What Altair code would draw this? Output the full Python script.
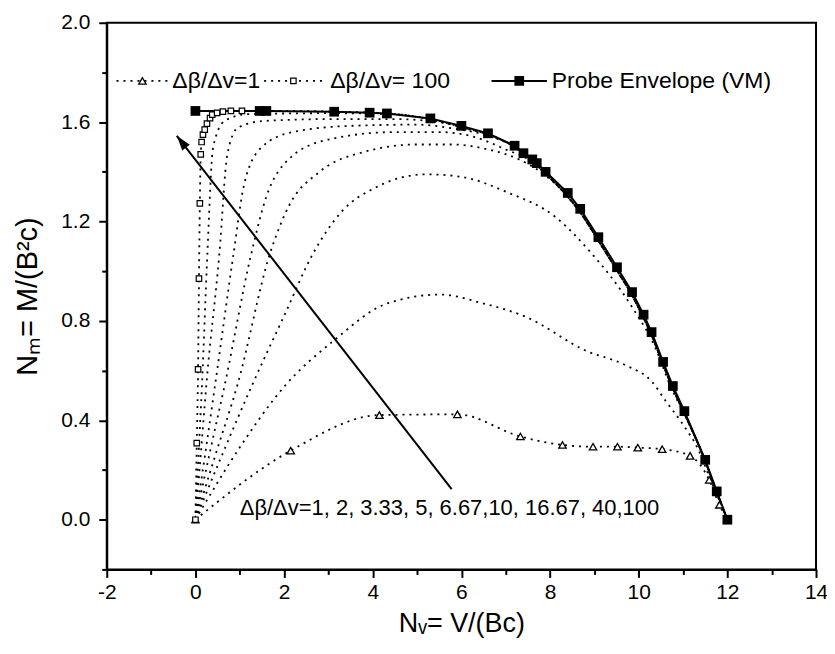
import altair as alt
import pandas as pd

FONT = "Liberation Sans"

# ---------------- data ----------------
# Probe envelope (VM), filled squares, solid line
env_x = [0, 1.45, 1.6, 3.13, 3.93, 4.32, 5.3, 6.0, 6.6, 7.2, 7.4, 7.6, 7.7, 7.9,
         8.4, 8.68, 9.09, 9.51, 9.85, 10.11, 10.29, 10.55, 10.77, 11.03, 11.5, 11.76, 12.0]
env_y = [1.645, 1.645, 1.645, 1.642, 1.638, 1.635, 1.615, 1.585, 1.555, 1.505, 1.475, 1.45, 1.435, 1.40,
         1.315, 1.251, 1.137, 1.016, 0.916, 0.825, 0.755, 0.635, 0.538, 0.437, 0.241, 0.114, 0.0]

# d_beta/d_v = 1 (open triangles)
c1_x = [0, 2.15, 4.15, 5.91, 7.33, 8.28, 8.97, 9.52, 9.98, 10.53, 11.16, 11.59, 11.82, 12.0]
c1_y = [0, 0.278, 0.421, 0.424, 0.335, 0.301, 0.294, 0.294, 0.29, 0.284, 0.257, 0.16, 0.06, 0.0]

# d_beta/d_v = 2
c2_x = [0, 0.96, 2.0, 3.13, 4.32, 5.52, 6.5, 7.46, 8.81, 9.7, 10.3, 10.6, 10.98, 11.35, 11.6, 12.0]
c2_y = [0, 0.28, 0.535, 0.722, 0.87, 0.906, 0.87, 0.816, 0.68, 0.622, 0.555, 0.48, 0.388, 0.28, 0.17, 0.0]

# d_beta/d_v = 3.33
c3_x = [0, 0.6, 1.3, 2.0, 2.65, 3.3, 4.1, 5.2, 6.0, 7.0, 8.13, 8.88, 9.85, 10.38, 10.71, 11.1, 11.5, 12.0]
c3_y = [0, 0.26, 0.55, 0.82, 1.07, 1.24, 1.34, 1.39, 1.38, 1.32, 1.217, 1.083, 0.856, 0.69, 0.54, 0.40, 0.235, 0.0]

# d_beta/d_v = 5
c4_x = [0, 0.45, 0.96, 1.68, 2.1, 2.8, 3.8, 5.0, 5.8, 6.6, 7.3, 7.9]
c4_y = [0, 0.26, 0.55, 1.07, 1.26, 1.40, 1.48, 1.51, 1.51, 1.49, 1.45, 1.385]

# d_beta/d_v = 6.67
c5_x = [0, 0.3, 0.67, 1.26, 1.6, 2.1, 3.0, 4.5, 5.5, 6.3, 7.0, 7.6]
c5_y = [0, 0.25, 0.55, 1.07, 1.30, 1.45, 1.53, 1.56, 1.56, 1.54, 1.49, 1.44]

# d_beta/d_v = 10
c6_x = [0, 0.2, 0.45, 0.86, 1.1, 1.5, 2.2, 3.5, 5.0, 5.8, 6.6, 7.3]
c6_y = [0, 0.24, 0.55, 1.07, 1.35, 1.50, 1.56, 1.585, 1.59, 1.575, 1.545, 1.49]

# d_beta/d_v = 16.67
c7_x = [0, 0.12, 0.25, 0.54, 0.72, 0.96, 1.56, 3.0, 4.5, 5.5, 6.3]
c7_y = [0, 0.26, 0.55, 1.07, 1.47, 1.578, 1.605, 1.612, 1.612, 1.60, 1.565]

# d_beta/d_v = 40
c8_x = [0, 0.07, 0.15, 0.27, 0.4, 0.66, 1.18, 3.0, 4.5, 5.3]
c8_y = [0, 0.26, 0.55, 1.07, 1.50, 1.605, 1.632, 1.636, 1.632, 1.61]

# d_beta/d_v = 100 (open squares, then along the envelope)
c9_mx = [0, 0.03, 0.06, 0.08, 0.1, 0.12, 0.14, 0.17, 0.21, 0.26, 0.33, 0.38, 0.49, 0.62, 0.8, 1.05]
c9_my = [0, 0.308, 0.605, 0.97, 1.273, 1.47, 1.52, 1.55, 1.57, 1.594, 1.616, 1.63, 1.637, 1.642, 1.645, 1.645]
c9_x = [2.0, 3.13, 4.32, 5.3]
c9_y = [1.645, 1.642, 1.635, 1.613]

# shared part of the high-ratio curves, just inside the envelope
mid_x = [6.0, 6.6, 7.2, 7.9]
mid_y = [1.580, 1.550, 1.500, 1.392]
tail_x = [8.4, 8.68, 9.09, 9.51, 9.85, 10.11, 10.29, 10.55, 10.77, 11.03, 11.5, 11.76, 12.0]
tail_y = [1.30, 1.237, 1.123, 1.003, 0.903, 0.812, 0.743, 0.624, 0.528, 0.428, 0.236, 0.11, 0.0]

ratio_text = "\u0394\u03b2/\u0394v=1, 2, 3.33, 5, 6.67,10, 16.67, 40,100"
legend_labels = ["\u0394\u03b2/\u0394v=1", "\u0394\u03b2/\u0394v= 100", "Probe Envelope (VM)"]

# ---------------- tables ----------------
def frame(name, xs, ys):
    return pd.DataFrame({"x": xs, "y": ys, "curve": name, "i": range(len(xs))})

def with_shared(xs, ys):
    last = xs[-1]
    ex = list(xs) + [v for v in mid_x if v > last] + list(tail_x)
    ey = list(ys) + [w for v, w in zip(mid_x, mid_y) if v > last] + list(tail_y)
    return ex, ey

curves = [
    frame("1", c1_x, c1_y),
    frame("2", c2_x, c2_y),
    frame("3.33", c3_x, c3_y),
    frame("5", *with_shared(c4_x, c4_y)),
    frame("6.67", *with_shared(c5_x, c5_y)),
    frame("10", *with_shared(c6_x, c6_y)),
    frame("16.67", *with_shared(c7_x, c7_y)),
    frame("40", *with_shared(c8_x, c8_y)),
    frame("100", *with_shared(c9_mx + c9_x, c9_my + c9_y)),
]
curve_df = pd.concat(curves, ignore_index=True)
env_df = frame("env", env_x, env_y)
tri_df = frame("1", c1_x, c1_y)
sq_df = frame("100", c9_mx, c9_my)

# annotation / legend layout (data units)
arrow_df = pd.DataFrame({"x": [5.78], "y": [0.123], "x2": [-0.42], "y2": [1.545]})
note_df = pd.DataFrame({"x": [1.0], "y": [0.048], "t": [ratio_text]})
leg_y = 1.766
leg_lines = pd.DataFrame({"x": [-1.78, 1.55, 6.68], "x2": [-0.61, 2.87, 7.93],
                          "y": [leg_y] * 3, "kind": ["dot", "dot", "solid"]})
leg_text = pd.DataFrame({"x": [-0.52, 3.04, 8.04], "y": [leg_y] * 3, "t": legend_labels})

# ---------------- encodings ----------------
sx = alt.Scale(domain=[-2, 14], nice=False, zero=False)
sy = alt.Scale(domain=[-0.2, 2.0], nice=False, zero=False)

x_axis = alt.Axis(
    values=list(range(-2, 15)),
    labelExpr="datum.value % 2 == 0 ? '' + datum.value : ''",
    tickSize={"condition": {"test": "datum.value % 2 == 0", "value": 8}, "value": 5},
    grid=False, domainColor="black", domainWidth=2, tickColor="black", tickWidth=2,
    labelFont=FONT, labelFontSize=21, labelColor="black", labelPadding=4,
    titleFont=FONT, titleFontSize=27, titleFontWeight="normal", titleColor="black",
    titlePadding=8, labelFlush=False,
)
y_vals = [-0.2, 0.0, 0.2, 0.4, 0.6, 0.8, 1.0, 1.2, 1.4, 1.6, 1.8, 2.0]
y_axis = alt.Axis(
    values=y_vals,
    labelExpr="abs(round(datum.value*10)) % 4 == 0 && datum.value > -0.1 ? format(datum.value, '.1f') : ''",
    tickSize={"condition": {"test": "abs(round(datum.value*10)) % 4 == 0", "value": 8}, "value": 5},
    grid=False, domainColor="black", domainWidth=2, tickColor="black", tickWidth=2,
    labelFont=FONT, labelFontSize=21, labelColor="black", labelPadding=9,
    titleFont=FONT, titleFontSize=29, titleFontWeight="normal", titleColor="black",
    titlePadding=18, labelFlush=False,
)
X_TITLE = "N\u1d65= V/(Bc)"
Y_TITLE = "N\u2098= M/(B\u00b2c)"

def X(field="x"):
    return alt.X(f"{field}:Q", scale=sx, axis=x_axis, title=X_TITLE)

def Y(field="y"):
    return alt.Y(f"{field}:Q", scale=sy, axis=y_axis, title=Y_TITLE)

base_curves = alt.Chart(curve_df).mark_line(
    color="black", strokeWidth=1.8, strokeDash=[2, 5], interpolate="monotone"
).encode(x=X(), y=Y(), detail="curve:N", order="i:Q")

env_line = alt.Chart(env_df).mark_line(color="black", strokeWidth=2).encode(
    x=X(), y=Y(), order="i:Q")

tri_pts = alt.Chart(tri_df).mark_point(
    shape="triangle-up", size=55, filled=True, fill="white", stroke="black", strokeWidth=1.3, opacity=1
).encode(x=X(), y=Y())

sq_pts = alt.Chart(sq_df).mark_point(
    shape="square", size=30, filled=True, fill="white", stroke="black", strokeWidth=1.2, opacity=1
).encode(x=X(), y=Y())

env_pts = alt.Chart(env_df).mark_square(size=95, color="black", opacity=1).encode(x=X(), y=Y())

arrow_line = alt.Chart(arrow_df).mark_rule(color="black", strokeWidth=2).encode(
    x=X(), y=Y(), x2="x2:Q", y2="y2:Q")

arrow_head = alt.Chart(arrow_df).mark_point(
    shape="M0,0 L-0.32,1 L0.32,1 Z", size=900, angle=322, filled=True, color="black", opacity=1
).encode(x=X("x2"), y=Y("y2"))

note = alt.Chart(note_df).mark_text(
    align="left", baseline="middle", font=FONT, fontSize=22, color="black"
).encode(x=X(), y=Y(), text="t:N")

leg_line_dot = alt.Chart(leg_lines).transform_filter("datum.kind == 'dot'").mark_rule(
    color="black", strokeWidth=1.8, strokeDash=[2, 5]
).encode(x=X(), x2="x2:Q", y=Y())
leg_line_solid = alt.Chart(leg_lines).transform_filter("datum.kind == 'solid'").mark_rule(
    color="black", strokeWidth=2
).encode(x=X(), x2="x2:Q", y=Y())
leg_tri = alt.Chart(leg_lines).transform_filter("datum.x < 0").transform_calculate(
    xm="(datum.x + datum.x2) / 2").mark_point(
    shape="triangle-up", size=55, filled=True, fill="white", stroke="black", strokeWidth=1.3, opacity=1
).encode(x=X("xm"), y=Y())
leg_sq = alt.Chart(leg_lines).transform_filter("datum.x > 0 && datum.x < 5").transform_calculate(
    xm="(datum.x + datum.x2) / 2").mark_point(
    shape="square", size=30, filled=True, fill="white", stroke="black", strokeWidth=1.2, opacity=1
).encode(x=X("xm"), y=Y())
leg_env = alt.Chart(leg_lines).transform_filter("datum.kind == 'solid'").transform_calculate(
    xm="(datum.x + datum.x2) / 2").mark_square(size=95, color="black", opacity=1
).encode(x=X("xm"), y=Y())
leg_txt = alt.Chart(leg_text).mark_text(
    align="left", baseline="middle", font=FONT, fontSize=23, color="black"
).encode(x=X(), y=Y(), text="t:N")

chart = alt.layer(
    base_curves, env_line, arrow_line, arrow_head, tri_pts, sq_pts, env_pts, note,
    leg_line_dot, leg_line_solid, leg_tri, leg_sq, leg_env, leg_txt
).properties(
    width=711, height=548,
    autosize=alt.AutoSizeParams(type="none"),
    padding={"left": 99, "top": 14, "right": 11, "bottom": 76},
    background="white",
).configure_view(stroke="black", strokeWidth=2)

chart.save("out.html", embed_options={"renderer": "svg", "actions": False})
